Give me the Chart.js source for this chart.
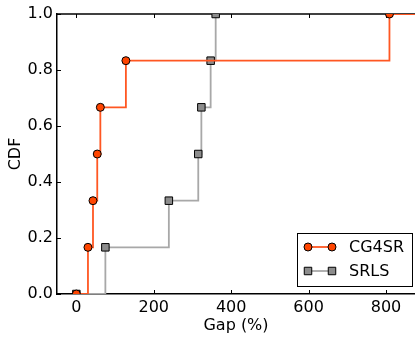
<!DOCTYPE html>
<html>
<head>
<meta charset="utf-8">
<script src="https://cdn.jsdelivr.net/npm/chart.js@4.4.0/dist/chart.umd.min.js"></script>
<style>
  html, body { margin: 0; padding: 0; background: #fff; }
  #wrap { width: 415px; height: 337px; position: relative; }
</style>
</head>
<body>
<div id="wrap"><canvas id="cdfChart"></canvas></div>
<script>
// data
const seriesNames = ['CG4SR', 'SRLS'];
const cg4srGap = [0, 30, 43, 54, 62, 128, 809, 950];
const cg4srCdf = [0, 0.1667, 0.3333, 0.5, 0.6667, 0.8333, 1.0, 1.0];
const srlsGap = [0, 75, 239, 315, 323, 347, 360];
const srlsCdf = [0, 0.1667, 0.3333, 0.5, 0.6667, 0.8333, 1.0];
const xTicks = [0, 200, 400, 600, 800];
const yTicks = [0, 0.2, 0.4, 0.6, 0.8, 1.0];

const FONT = { family: 'DejaVu Sans', size: 16 };

const toPoints = (xs, ys) => xs.map((v, i) => ({ x: v, y: ys[i] }));

// little square/circle marker for the legend
function drawMarker(ctx, style, x, y, r, fill) {
  ctx.fillStyle = fill;
  ctx.strokeStyle = '#000';
  ctx.lineWidth = 1;
  ctx.beginPath();
  if (style === 'rect') {
    const s = r * Math.SQRT1_2;
    ctx.rect(x - s, y - s, 2 * s, 2 * s);
  } else {
    ctx.arc(x, y, r, 0, Math.PI * 2);
  }
  ctx.fill();
  ctx.stroke();
}

// top spine, inward ticks and the boxed legend
const frameAndLegend = {
  id: 'frameAndLegend',
  beforeDatasetsDraw(chart) {
    const { ctx, chartArea: a, scales: { x, y } } = chart;
    ctx.save();
    ctx.strokeStyle = '#000';
    ctx.lineWidth = 1.5;
    ctx.beginPath();
    ctx.moveTo(a.left, a.top);
    ctx.lineTo(a.right, a.top);
    ctx.stroke();
    ctx.lineWidth = 1;
    ctx.beginPath();
    xTicks.forEach(v => {
      const px = Math.round(x.getPixelForValue(v)) + 0.5;
      ctx.moveTo(px, a.bottom); ctx.lineTo(px, a.bottom - 4);
      ctx.moveTo(px, a.top); ctx.lineTo(px, a.top + 4);
    });
    yTicks.forEach(v => {
      const py = Math.round(y.getPixelForValue(v)) + 0.5;
      ctx.moveTo(a.left, py); ctx.lineTo(a.left + 4, py);
    });
    ctx.stroke();
    ctx.restore();
  },
  afterDatasetsDraw(chart) {
    const { ctx, chartArea: a } = chart;
    const w = 115, h = 53;
    const left = a.right - w - 3, top = a.bottom - h - 8;
    ctx.save();
    ctx.fillStyle = '#fff';
    ctx.fillRect(left, top, w, h);
    ctx.strokeStyle = '#000';
    ctx.lineWidth = 1;
    ctx.strokeRect(left + 0.5, top + 0.5, w, h);
    chart.data.datasets.forEach((ds, i) => {
      const cy = top + 14 + i * 24;
      const x0 = left + 11, x1 = left + 35;
      ctx.strokeStyle = ds.borderColor;
      ctx.lineWidth = ds.borderWidth;
      ctx.beginPath();
      ctx.moveTo(x0, cy); ctx.lineTo(x1, cy);
      ctx.stroke();
      drawMarker(ctx, ds.pointStyle, x0, cy, ds.pointRadius, ds.pointBackgroundColor);
      drawMarker(ctx, ds.pointStyle, x1, cy, ds.pointRadius, ds.pointBackgroundColor);
      ctx.fillStyle = '#000';
      ctx.font = `${FONT.size}px ${FONT.family}`;
      ctx.textBaseline = 'middle';
      ctx.fillText(ds.label, left + 52, cy + 1);
    });
    ctx.restore();
  }
};

const ctx = document.getElementById('cdfChart').getContext('2d');
const cdfChart = new Chart(ctx, {
  type: 'line',
  data: {
    datasets: [
      {
        label: seriesNames[0],
        data: toPoints(cg4srGap, cg4srCdf),
        stepped: 'before',
        borderColor: '#ff5722',
        borderWidth: 1.8,
        pointStyle: 'circle',
        pointRadius: 4,
        pointBackgroundColor: '#ff4500',
        pointBorderColor: '#000',
        pointBorderWidth: 1,
        fill: false
      },
      {
        label: seriesNames[1],
        data: toPoints(srlsGap, srlsCdf),
        stepped: 'before',
        borderColor: '#a8a8a8',
        borderWidth: 1.8,
        pointStyle: 'rect',
        pointRadius: 5.3,
        pointBackgroundColor: '#8c8c8c',
        pointBorderColor: '#000',
        pointBorderWidth: 1,
        fill: false
      }
    ]
  },
  options: {
    responsive: true,
    maintainAspectRatio: false,
    animation: false,
    layout: { autoPadding: false, padding: { top: 14, right: 0, left: 0, bottom: 0 } },
    plugins: { legend: { display: false }, tooltip: { enabled: false } },
    scales: {
      x: {
        type: 'linear', min: -50, max: 875,
        afterBuildTicks: s => { s.ticks = xTicks.map(v => ({ value: v })); },
        afterFit: s => { s.height = 43; s.paddingLeft = 0; s.paddingRight = 0; },
        grid: { display: false, drawTicks: false },
        border: { display: true, color: '#000', width: 1.5 },
        ticks: { color: '#000', font: FONT, padding: 4, maxRotation: 0 },
        title: { display: true, text: 'Gap (%)', color: '#000', font: FONT, padding: { top: 0, bottom: 2 } }
      },
      y: {
        type: 'linear', min: 0, max: 1,
        afterBuildTicks: s => { s.ticks = yTicks.map(v => ({ value: v })); },
        afterFit: s => { s.width = 57; s.paddingTop = 0; s.paddingBottom = 0; },
        grid: { display: false, drawTicks: false },
        border: { display: true, color: '#000', width: 1.5 },
        ticks: { color: '#000', font: FONT, padding: 4, callback: v => v.toFixed(1) },
        title: { display: true, text: 'CDF', color: '#000', font: FONT, padding: { top: 6, bottom: 0 } }
      }
    }
  },
  plugins: [frameAndLegend]
});
</script>
</body>
</html>
